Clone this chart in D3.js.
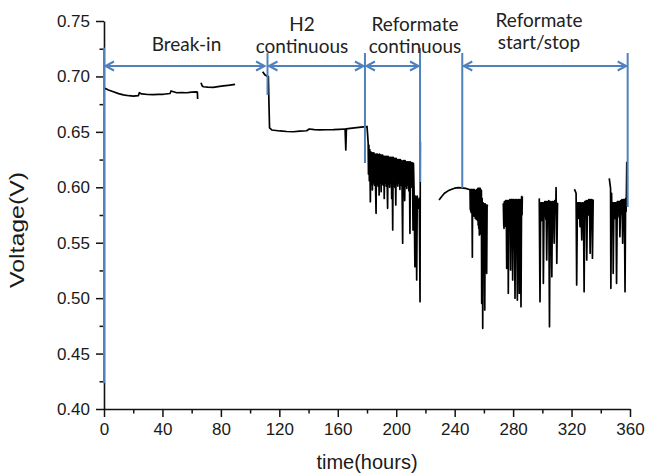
<!DOCTYPE html>
<html><head><meta charset="utf-8">
<script src="https://cdn.jsdelivr.net/npm/d3@7"></script>
<style>body{margin:0;background:#fff} svg{display:block}</style>
</head><body><svg id="c" width="646" height="474"></svg>
<script>
// ---------- data ----------
const xMajorTicks = [0,40,80,120,160,200,240,280,320,360];
const xMinorTicks = [20,60,100,140,180,220,260,300,340];
const yMajorTicks = [0.40,0.45,0.50,0.55,0.60,0.65,0.70,0.75];
const yMinorTicks = [0.425,0.475,0.525,0.575,0.625,0.675,0.725];

const breakInA = [[0.7,0.6893],[3,0.6878],[6.4,0.6862],[10,0.6845],[13.2,0.6833],[17,0.6826],[20.1,0.6823],[23.5,0.6826],[24.2,0.6853],[25.8,0.6842],[30,0.6837],[33.7,0.6835],[37,0.6838],[40.6,0.6839],[45.2,0.6846],[45.9,0.6869],[49.8,0.6853],[53,0.6855],[56.6,0.6853],[60,0.6858],[63.4,0.6860],[63.9,0.6858],[64.1,0.6796]];
const breakInB = [[66.4,0.6943],[67.2,0.6915],[68.0,0.6907],[71,0.6904],[74.8,0.6902],[78,0.6908],[81.6,0.6914],[85,0.6920],[89.7,0.6929]];
const h2Cont = [[108.6,0.7043],[110.2,0.7013],[111.5,0.7003],[112.5,0.6998],[113.0,0.6700],[113.3,0.6535],[114.8,0.6517],[120.5,0.6508],[125,0.6503],[129.6,0.6501],[134,0.6506],[138.7,0.6510],[140.5,0.6526],[144,0.6520],[147.8,0.6517],[152,0.6519],[157.0,0.6520],[161,0.6523],[165.0,0.6526],[165.5,0.6336],[165.9,0.6527],[168.4,0.6532],[172.9,0.6538],[176,0.6542],[179.8,0.6547]];
const reformCont = [[180.0,0.655],[180.4,0.648],[180.8,0.640],[181.0,0.612],[181.3,0.638],[181.6,0.606],[181.9,0.634],[182.3,0.587],[182.6,0.632],[183.0,0.603],[183.3,0.631],[183.7,0.5976],[184.0,0.631],[184.4,0.604],[184.7,0.631],[185.1,0.602],[185.4,0.630],[185.8,0.605],[186.2,0.5765],[186.5,0.630],[186.9,0.603],[187.2,0.630],[187.6,0.601],[187.9,0.629],[188.3,0.593],[188.6,0.630],[189.0,0.604],[189.3,0.629],[189.7,0.596],[190.0,0.629],[190.4,0.603],[190.7,0.629],[191.1,0.602],[191.4,0.628],[191.8,0.590],[192.1,0.628],[192.5,0.604],[192.8,0.628],[193.2,0.601],[193.5,0.628],[194.1,0.581],[194.4,0.628],[194.8,0.603],[195.1,0.627],[195.5,0.600],[195.8,0.627],[196.2,0.604],[196.5,0.627],[196.9,0.590],[197.2,0.627],[197.6,0.5615],[197.9,0.627],[198.3,0.603],[198.6,0.626],[199.0,0.600],[199.3,0.626],[199.7,0.584],[200.0,0.626],[200.4,0.603],[200.7,0.625],[201.1,0.601],[201.4,0.625],[201.8,0.604],[202.1,0.625],[202.5,0.598],[202.8,0.625],[203.2,0.602],[203.5,0.624],[204.0,0.600],[204.4,0.5495],[204.7,0.624],[205.1,0.603],[205.4,0.624],[205.8,0.588],[206.1,0.624],[206.5,0.601],[206.8,0.623],[207.2,0.599],[207.5,0.623],[207.9,0.602],[208.2,0.623],[208.6,0.597],[209.0,0.623],[209.4,0.5585],[209.7,0.623],[210.1,0.600],[210.4,0.622],[210.8,0.603],[211.1,0.622],[211.5,0.5615],[211.8,0.6215],[212.2,0.598],[212.8,0.5284],[213.2,0.592],[213.6,0.588],[214.0,0.5164],[214.4,0.592],[214.8,0.581],[215.3,0.586],[215.8,0.590],[216.3,0.4968],[216.5,0.641]];
const restartCurve = [[229.3,0.5885],[231,0.5915],[233,0.5946],[235.5,0.5968],[238,0.5982],[240,0.5992],[242.5,0.5997],[245,0.5995],[247.5,0.599],[250,0.598]];
const cycle1 = [[250.5,0.598],[250.7,0.580],[250.9,0.598],[251.1,0.578],[251.3,0.598],[251.5,0.577],[251.7,0.598],[251.9,0.579],[252.1,0.537],[252.3,0.598],[252.5,0.576],[252.7,0.598],[252.9,0.578],[253.1,0.598],[253.3,0.574],[253.5,0.598],[253.7,0.575],[253.9,0.597],[254.1,0.572],[254.3,0.597],[254.5,0.574],[254.7,0.597],[254.9,0.571],[255.1,0.598],[255.3,0.573],[255.5,0.598],[255.7,0.570],[255.9,0.599],[256.1,0.566],[256.3,0.599],[256.5,0.563],[256.7,0.599],[256.9,0.557],[257.1,0.599],[257.3,0.560],[257.5,0.599],[257.7,0.558],[257.9,0.598],[258.1,0.562],[258.3,0.597],[258.5,0.4953],[258.8,0.590],[259.0,0.560],[259.2,0.4728],[259.5,0.586],[259.7,0.562],[259.9,0.585],[260.1,0.558],[260.3,0.585],[260.6,0.4893],[260.9,0.585],[261.1,0.560],[261.3,0.584],[261.5,0.555],[261.7,0.584],[261.9,0.5224],[262.2,0.584],[262.6,0.583]];
const cycle2 = [[273.3,0.5856],[273.6,0.566],[273.8,0.563],[274.0,0.587],[274.2,0.567],[274.5,0.587],[274.7,0.565],[274.9,0.588],[275.1,0.566],[275.3,0.588],[275.6,0.5269],[276.0,0.588],[276.3,0.566],[276.5,0.588],[276.7,0.5044],[277.1,0.588],[277.3,0.565],[277.6,0.566],[277.8,0.589],[278.1,0.568],[278.3,0.5254],[278.6,0.589],[278.8,0.567],[279.0,0.589],[279.2,0.570],[279.4,0.589],[279.7,0.5164],[280.1,0.589],[280.4,0.566],[280.6,0.589],[280.9,0.568],[281.3,0.4999],[281.7,0.589],[282.0,0.565],[282.2,0.589],[282.5,0.566],[282.9,0.4983],[283.3,0.589],[283.6,0.567],[283.8,0.589],[284.0,0.567],[284.2,0.5044],[284.7,0.589],[285.0,0.570],[285.4,0.4923],[285.8,0.5915],[286.1,0.575],[286.3,0.5915],[286.5,0.5915]];
const cycle3 = [[297.9,0.590],[298.4,0.4968],[298.9,0.586],[299.1,0.572],[299.3,0.586],[299.5,0.570],[299.8,0.586],[300.0,0.574],[300.3,0.586],[300.5,0.572],[300.7,0.5134],[301.2,0.586],[301.4,0.574],[301.6,0.587],[301.9,0.575],[302.1,0.587],[302.4,0.571],[302.6,0.587],[303.0,0.5344],[303.5,0.587],[303.7,0.574],[303.9,0.587],[304.2,0.573],[304.4,0.588],[304.9,0.4743],[305.3,0.587],[305.5,0.572],[305.8,0.587],[306.0,0.570],[306.5,0.5194],[306.9,0.587],[307.1,0.575],[307.4,0.587],[307.7,0.576],[308.1,0.5495],[308.5,0.588],[308.7,0.577],[309.0,0.588],[309.2,0.578],[309.4,0.5998],[309.9,0.5314],[310.4,0.586]];
const cycle4 = [[321.9,0.5982],[322.4,0.597],[323.1,0.5946],[323.5,0.5119],[324.0,0.586],[324.2,0.574],[324.5,0.586],[324.7,0.572],[324.9,0.586],[325.2,0.575],[325.4,0.586],[325.8,0.5645],[326.3,0.586],[326.6,0.574],[327.0,0.5525],[327.4,0.586],[327.6,0.573],[327.9,0.586],[328.2,0.574],[328.6,0.5058],[329.0,0.587],[329.2,0.575],[329.5,0.587],[329.8,0.574],[330.0,0.588],[330.4,0.5344],[330.9,0.588],[331.1,0.576],[331.3,0.588],[331.6,0.575],[331.8,0.589],[332.1,0.577],[332.3,0.589],[332.7,0.5405],[333.2,0.589],[333.5,0.578],[333.9,0.589],[334.3,0.536],[334.8,0.589]];
const cycle5 = [[345.8,0.6081],[346.3,0.603],[346.7,0.5991],[346.9,0.5089],[347.4,0.5946],[347.6,0.576],[347.9,0.586],[348.1,0.575],[348.3,0.586],[348.5,0.5224],[349.0,0.586],[349.2,0.574],[349.5,0.586],[349.7,0.572],[349.9,0.586],[350.2,0.575],[350.4,0.586],[350.8,0.5134],[351.3,0.587],[351.5,0.576],[351.7,0.587],[352.0,0.575],[352.2,0.587],[352.5,0.573],[352.7,0.587],[353.1,0.5555],[353.6,0.588],[353.8,0.576],[354.0,0.588],[354.3,0.577],[354.5,0.589],[355.0,0.5495],[355.4,0.589],[355.6,0.577],[355.9,0.589],[356.2,0.578],[356.6,0.5058],[357.0,0.590],[357.3,0.578],[357.5,0.589],[357.8,0.623]];

const phaseLabels = [["Break-in"],["H2","continuous"],["Reformate","continuous"],["Reformate","start/stop"]];
const phaseStart = [0, 111.9, 178.6, 245.2];
const phaseEnd   = [110.9, 178.6, 216.3, 358.4];
const markerTimes = [0, 111.9, 178.6, 216.3, 245.2, 358.4];
const markerTopV  = [0.7259, 0.7211, 0.7211, 0.7256, 0.7211, 0.7211];
const markerBotV  = [0.4232, 0.6833, 0.6219, 0.6048, 0.5994, 0.5822];
const arrowV = 0.7094;

// ---------- drawing ----------
const svg = d3.select("#c");
const x = d3.scaleLinear().domain([0,360]).range([104,630]);
const y = d3.scaleLinear().domain([0.40,0.75]).range([409,21]);
const axisFont = "'Liberation Sans', Arial, sans-serif";
const txt = "#1a1a1a";

// axes
svg.append("g").attr("transform","translate(0,409)")
  .call(d3.axisBottom(x).tickValues(xMajorTicks).tickSize(8).tickSizeOuter(0).tickPadding(6).tickFormat(d3.format("d")));
svg.append("g").attr("transform","translate(0,409)")
  .call(d3.axisBottom(x).tickValues(xMinorTicks).tickSize(4.5).tickSizeOuter(0).tickFormat(""))
  .select(".domain").remove();
svg.append("g").attr("transform","translate(104,0)")
  .call(d3.axisLeft(y).tickValues(yMajorTicks).tickSize(8).tickSizeOuter(0).tickPadding(6).tickFormat(d3.format(".2f")));
svg.append("g").attr("transform","translate(104,0)")
  .call(d3.axisLeft(y).tickValues(yMinorTicks).tickSize(4.5).tickSizeOuter(0).tickFormat(""))
  .select(".domain").remove();
svg.selectAll(".tick line").attr("stroke","#111").attr("stroke-width",1.5);
svg.selectAll(".domain").attr("stroke","#111").attr("stroke-width",1.6);
svg.selectAll(".tick text").attr("font-family",axisFont).attr("font-size",17).attr("fill",txt);

// axis titles
svg.append("text").attr("x",367).attr("y",469).attr("text-anchor","middle")
  .attr("font-family",axisFont).attr("font-size",20).attr("fill",txt).text("time(hours)");
svg.append("text").attr("transform","translate(23.5,230) rotate(-90)").attr("text-anchor","middle")
  .attr("font-family",axisFont).attr("font-size",19.5).attr("fill",txt)
  .attr("textLength",116).attr("lengthAdjust","spacingAndGlyphs").text("Voltage(V)");

// data line
const line = d3.line().x(d=>x(d[0])).y(d=>y(d[1]));
const segments = [breakInA, breakInB, h2Cont.concat(reformCont), restartCurve.concat(cycle1), cycle2, cycle3, cycle4, cycle5];
svg.append("g").selectAll("path").data(segments).join("path")
  .attr("d", line).attr("fill","none").attr("stroke","#000").attr("stroke-width",1.7)
  .attr("stroke-linejoin","round");

// annotations
const blue = "#4f81bd";
const ann = svg.append("g").attr("stroke",blue).attr("stroke-width",2).attr("fill","none");
markerTimes.forEach((t,i)=>{
  ann.append("line").attr("x1",x(t)).attr("x2",x(t)).attr("y1",y(markerTopV[i])).attr("y2",y(markerBotV[i]));
});
const ay = y(arrowV);
phaseStart.forEach((s,i)=>{
  const x0 = x(s)+1, x1 = x(phaseEnd[i])-1;
  ann.append("line").attr("x1",x0).attr("x2",x1).attr("y1",ay).attr("y2",ay);
  ann.append("path").attr("d",`M${x0+9},${ay-4.5}L${x0+0.5},${ay}L${x0+9},${ay+4.5}`);
  ann.append("path").attr("d",`M${x1-9},${ay-4.5}L${x1-0.5},${ay}L${x1-9},${ay+4.5}`);
});

const labelX = [186.5, 302, 415, 539];
const labelY = [[51],[31,53],[31,53],[27,49]];
phaseLabels.forEach((lines,i)=>{
  lines.forEach((s,j)=>{
    svg.append("text").attr("x",labelX[i]).attr("y",labelY[i][j]).attr("text-anchor","middle")
      .attr("font-family","Lato, 'Open Sans', sans-serif").attr("font-size",19).attr("fill","#222").text(s);
  });
});
</script></body></html>
